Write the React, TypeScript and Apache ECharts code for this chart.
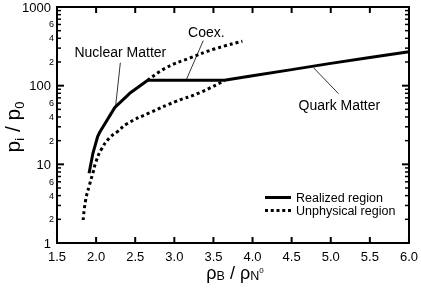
import React, { useEffect, useRef } from 'react';
import * as echarts from 'echarts';

const FONT = 'Liberation Sans';

// x axis
const xMin = 1.5;
const xMax = 6.0;
const xStep = 0.5;
const xTickValues = [1.5, 2.0, 2.5, 3.0, 3.5, 4.0, 4.5, 5.0, 5.5, 6.0];

// y axis (log): decades and labelled minor values
const yMin = 1;
const yMax = 1000;
const yMajor = [1, 10, 100, 1000];
const yMinor = [2, 3, 4, 5, 6, 7, 8, 9, 20, 30, 40, 50, 60, 70, 80, 90, 200, 300, 400, 500, 600, 700, 800, 900];
const yMinorLabelled = [2, 4, 6, 20, 40, 60, 200, 400, 600];

// Realized region (solid)
const realizedX = [1.91, 1.96, 2.02, 2.05, 2.24, 2.43, 2.66, 3.64, 4.0, 4.5, 5.0, 5.5, 6.0];
const realizedY = [7.7, 13.9, 22.6, 26, 53, 80, 117, 117, 134, 160, 192, 228, 270];

// Unphysical region (dotted): quark-matter branch below, nuclear-matter branch above
const quarkUnphysX = [1.835, 1.866, 1.916, 1.958, 2.0, 2.064, 2.17, 2.276, 2.4, 2.68, 3.02, 3.32, 3.64];
const quarkUnphysY = [1.96, 3.5, 5.5, 7.7, 10.9, 15.3, 21.6, 26.2, 33, 45, 63, 81, 116];
const nuclearUnphysX = [2.66, 2.9, 3.2, 3.5, 3.87];
const nuclearUnphysY = [117, 170, 225, 290, 367];

// annotations: label, text anchor (data), leader line from/to (data)
const annLabels = ['Nuclear Matter', 'Coex.', 'Quark Matter'];
const annText = [[2.31, 271], [3.41, 487], [5.11, 57.3]];
const annLine = [[2.31, 196, 2.25, 55.6], [3.37, 374, 3.15, 117], [5.10, 79, 4.78, 169]];

const legendNames = ['Realized region', 'Unphysical region'];

const zip = (xs: number[], ys: number[]) => xs.map((x, i) => [x, ys[i]]);
const lg = (v: number) => Math.log10(v);

const SOLID_ICON = 'path://M0,0H26V3H0Z';
const DOT_ICON = 'path://M0,0H3V3H0Z M5.75,0H8.75V3H5.75Z M11.5,0H14.5V3H11.5Z M17.25,0H20.25V3H17.25Z M23,0H26V3H23Z';

type Piece = { t: string; fs: number; dy: number };

function measure(text: string, fs: number): number {
  const c = document.createElement('canvas').getContext('2d')!;
  c.font = `${fs}px "${FONT}"`;
  return c.measureText(text).width;
}

// Lay out a run of text pieces on a common baseline (local y = 0), centred on local x = 0.
function runPieces(pieces: Piece[]) {
  const widths = pieces.map((p) => measure(p.t, p.fs));
  const total = widths.reduce((a, b) => a + b, 0);
  let cx = -total / 2;
  return pieces.map((p, i) => {
    const el = {
      type: 'text',
      x: cx,
      y: p.dy - 0.35 * p.fs,
      style: { text: p.t, fontSize: p.fs, fontFamily: FONT, fill: '#000', align: 'left', verticalAlign: 'middle' },
    };
    cx += widths[i];
    return el;
  });
}

export default function App() {
  const ref = useRef<HTMLDivElement>(null);
  useEffect(() => {
    const chart = echarts.init(ref.current!, null, { renderer: 'svg' });
    const leading = (v: number) => {
      const raw = Math.pow(10, v);
      const dec = Math.pow(10, Math.floor(v + 1e-9));
      return String(Math.round(raw / dec));
    };
    const major = (v: number) => String(Math.round(Math.pow(10, v)));
    const decoY = (position: 'left' | 'right', labels: number[] | null, fs: number, margin: number, fmt: (v: number) => string) => ({
      type: 'value',
      position,
      min: 0,
      max: 3,
      axisLine: { show: true, onZero: false, lineStyle: { color: '#000', width: 2 } },
      splitLine: { show: false },
      axisTick: { show: false },
      axisLabel: labels
        ? { show: true, customValues: labels.map(lg), fontSize: fs, fontFamily: FONT, color: '#000', margin, formatter: fmt }
        : { show: false },
    });
    const xAx = (position: 'bottom' | 'top', showLabel: boolean) => ({
      type: 'value', min: xMin, max: xMax, interval: xStep, position,
      axisLine: { show: true, onZero: false, lineStyle: { color: '#000', width: 2 } },
      splitLine: { show: false },
      axisTick: { show: false },
      axisLabel: showLabel
        ? { fontSize: 13, fontFamily: FONT, color: '#000', margin: 7, formatter: (v: number) => v.toFixed(1) }
        : { show: false },
    });

    // tick marks (inside, mirrored on opposite sides): [x, y, kind, length], every point inside the axes' ranges
    const tickData = [
      ...xTickValues.map((v) => [v, 10, 0, 6]),
      ...yMajor.map((v) => [3, v, 1, 7]),
      ...yMinor.map((v) => [3, v, 2, 4]),
    ];

    const titles: any[] = [
      {
        type: 'group', x: 20, y: 127, rotation: Math.PI / 2, z: 10,
        children: runPieces([
          { t: 'p', fs: 21, dy: 0 },
          { t: 'i', fs: 13, dy: 4 },
          { t: ' / p', fs: 21, dy: 0 },
          { t: '0', fs: 13, dy: 4 },
        ]),
      },
      {
        type: 'group', x: 235, y: 279, z: 10,
        children: runPieces([
          { t: 'ρ', fs: 18, dy: 0 },
          { t: 'B', fs: 12.5, dy: 1 },
          { t: ' / ρ', fs: 18, dy: 0 },
          { t: 'N', fs: 12.5, dy: 1 },
          { t: '0', fs: 8, dy: -6 },
        ]),
      },
    ];

    const option: any = {
      animation: false,
      grid: { left: 57, right: 9, top: 7, bottom: 47 },
      xAxis: [xAx('bottom', true), xAx('top', false)],
      yAxis: [
        { type: 'log', logBase: 10, min: yMin, max: yMax, show: false },
        decoY('left', yMajor, 13, 6, major),
        decoY('left', yMinorLabelled, 9, 3, leading),
        decoY('right', null, 0, 0, major),
      ],
      legend: {
        orient: 'vertical', left: 265, top: 191, padding: 0, itemWidth: 26, itemHeight: 3, itemGap: 0,
        data: [
          { name: legendNames[0], icon: SOLID_ICON },
          { name: legendNames[1], icon: DOT_ICON },
        ],
        textStyle: { fontSize: 12.5, fontFamily: FONT, color: '#000' },
        selectedMode: false,
      },
      graphic: titles,
      series: [
        {
          name: legendNames[0], type: 'line', xAxisIndex: 0, yAxisIndex: 0, symbol: 'none', smooth: false,
          data: zip(realizedX, realizedY), lineStyle: { color: '#000', width: 3, cap: 'butt' }, itemStyle: { color: '#000' }, z: 3,
          markLine: {
            silent: true, symbol: 'none', animation: false,
            lineStyle: { color: '#000', width: 0.8, type: 'solid' },
            label: { show: false },
            emphasis: { disabled: true },
            data: annLine.map((l) => [{ coord: [l[0], l[1]] }, { coord: [l[2], l[3]] }]),
          },
          markPoint: {
            silent: true, symbol: 'circle', symbolSize: 1, animation: false,
            itemStyle: { color: 'rgba(0,0,0,0)' },
            label: { show: true, position: 'inside', formatter: '{b}', fontSize: 14, fontFamily: FONT, color: '#000' },
            emphasis: { disabled: true },
            data: annText.map((t, i) => ({ name: annLabels[i], coord: t, value: t[1] })),
          },
        },
        {
          name: legendNames[1], type: 'line', xAxisIndex: 0, yAxisIndex: 0, symbol: 'none', smooth: true,
          data: zip(quarkUnphysX, quarkUnphysY), lineStyle: { color: '#000', width: 3, type: [3, 3], cap: 'butt' }, itemStyle: { color: '#000' }, z: 2,
        },
        {
          name: legendNames[1], type: 'line', xAxisIndex: 0, yAxisIndex: 0, symbol: 'none', smooth: true,
          data: zip(nuclearUnphysX, nuclearUnphysY), lineStyle: { color: '#000', width: 3, type: [3, 3], cap: 'butt' }, itemStyle: { color: '#000' }, z: 2,
        },
        {
          name: 'ticks', type: 'custom', xAxisIndex: 0, yAxisIndex: 0, silent: true, clip: false, z: 4,
          data: tickData,
          renderItem: (_params: any, api: any) => {
            const kind = api.value(2);
            const len = api.value(3);
            const style = { stroke: '#000', lineWidth: kind === 2 ? 1.5 : 2 };
            if (kind === 0) {
              const v = api.value(0);
              const b = api.coord([v, yMin]);
              const t = api.coord([v, yMax]);
              return {
                type: 'group',
                children: [
                  { type: 'line', shape: { x1: b[0], y1: b[1], x2: b[0], y2: b[1] - len }, style: { ...style } },
                  { type: 'line', shape: { x1: t[0], y1: t[1], x2: t[0], y2: t[1] + len }, style: { ...style } },
                ],
              };
            }
            const v = api.value(1);
            const l = api.coord([xMin, v]);
            const r = api.coord([xMax, v]);
            return {
              type: 'group',
              children: [
                { type: 'line', shape: { x1: l[0], y1: l[1], x2: l[0] + len, y2: l[1] }, style: { ...style } },
                { type: 'line', shape: { x1: r[0], y1: r[1], x2: r[0] - len, y2: r[1] }, style: { ...style } },
              ],
            };
          },
        },
      ],
    };
    chart.setOption(option);
    return () => chart.dispose();
  }, []);
  return <div ref={ref} style={{ position: 'fixed', left: 0, top: 0, width: 421, height: 290 }} />;
}
